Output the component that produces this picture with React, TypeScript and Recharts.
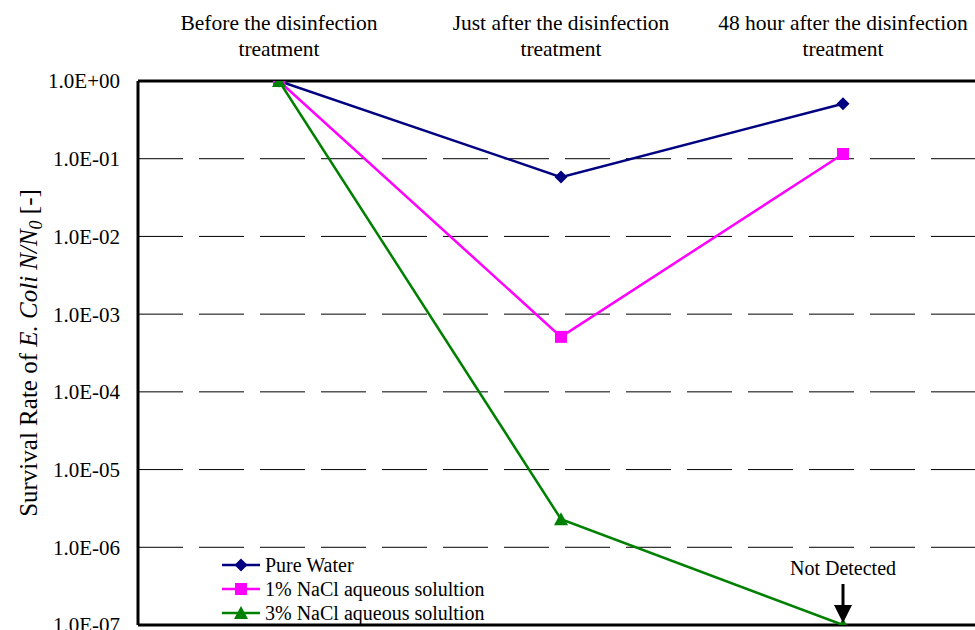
import React from 'react';
import { LineChart, Line, XAxis, YAxis, CartesianGrid, ReferenceLine, ReferenceDot } from 'recharts';

const categories = [
  'Before the disinfection treatment',
  'Just after the disinfection treatment',
  '48 hour after the disinfection treatment',
];
const pureWater = [1.0, 0.058, 0.51];
const nacl1 = [1.0, 5.1e-4, 0.115];
const nacl3 = [1.0, 2.3e-6, 1e-7];
const yTicks = [1e-7, 1e-6, 1e-5, 1e-4, 1e-3, 1e-2, 1e-1, 1];

const FONT = '"Liberation Serif", "Times New Roman", serif';

const data = categories.map((category, i) => ({
  category,
  pure: pureWater[i],
  nacl1: nacl1[i],
  nacl3: nacl3[i],
}));

type Shape = 'diamond' | 'square' | 'triangle';

const series: { key: string; name: string; color: string; shape: Shape }[] = [
  { key: 'pure', name: 'Pure Water', color: '#000080', shape: 'diamond' },
  { key: 'nacl1', name: '1% NaCl aqueous solultion', color: '#FF00FF', shape: 'square' },
  { key: 'nacl3', name: '3% NaCl aqueous solultion', color: '#008000', shape: 'triangle' },
];

function marker(shape: Shape, cx: number, cy: number, color: string, key?: string | number) {
  if (shape === 'diamond') {
    const s = 6.5;
    return <path key={key} d={`M${cx},${cy - s}L${cx + s},${cy}L${cx},${cy + s}L${cx - s},${cy}Z`} fill={color} />;
  }
  if (shape === 'square') {
    const s = 6;
    return <rect key={key} x={cx - s} y={cy - s} width={2 * s} height={2 * s} fill={color} />;
  }
  return <path key={key} d={`M${cx},${cy - 7}L${cx + 7},${cy + 6}L${cx - 7},${cy + 6}Z`} fill={color} />;
}

const fmt = (v: number) => {
  const e = Math.round(Math.log10(v));
  const sign = e < 0 ? '-' : '+';
  return `1.0E${sign}${String(Math.abs(e)).padStart(2, '0')}`;
};

const CategoryTick = (props: any) => {
  const { x, y, payload } = props;
  const text: string = payload.value;
  const cut = text.lastIndexOf(' ');
  return (
    <g>
      <text x={x} y={y - 51} textAnchor="middle" fontFamily={FONT} fontSize={21.5} fill="#000">
        {text.slice(0, cut)}
      </text>
      <text x={x} y={y - 25} textAnchor="middle" fontFamily={FONT} fontSize={21.5} fill="#000">
        {text.slice(cut + 1)}
      </text>
    </g>
  );
};

const YLabel = (props: any) => {
  const vb = props.viewBox;
  const x = vb.x + 37;
  const y = vb.y + vb.height / 2;
  return (
    <text
      x={x}
      y={y}
      transform={`rotate(-90, ${x}, ${y})`}
      textAnchor="middle"
      fontFamily={FONT}
      fontSize={25}
      fill="#000"
    >
      Survival Rate of <tspan fontStyle="italic">E. Coli N/N</tspan>
      <tspan fontStyle="italic" fontSize={18} dy={5}>0</tspan>
      <tspan dy={-5}> [-]</tspan>
    </text>
  );
};

const NotDetected = (props: any) => {
  const { cx, cy } = props;
  return (
    <g>
      <text x={cx} y={cy - 50} textAnchor="middle" fontFamily={FONT} fontSize={20} fill="#000">
        Not Detected
      </text>
      <line x1={cx} y1={cy - 41} x2={cx} y2={cy - 14} stroke="#000" strokeWidth={3} />
      <path d={`M${cx - 9},${cy - 20}L${cx + 9},${cy - 20}L${cx},${cy - 2}Z`} fill="#000" />
    </g>
  );
};

const LegendBox = () => (
  <div style={{ position: 'absolute', left: 222, top: 553, fontFamily: FONT, fontSize: 20, color: '#000' }}>
    {series.map((s) => (
      <div key={s.key} style={{ display: 'flex', alignItems: 'center', height: 24 }}>
        <svg width={43} height={24}>
          <line x1={0} y1={12} x2={38} y2={12} stroke={s.color} strokeWidth={2.5} />
          {marker(s.shape, 19, 12, s.color)}
        </svg>
        <span style={{ lineHeight: '24px', whiteSpace: 'nowrap' }}>{s.name}</span>
      </div>
    ))}
  </div>
);

export default function App() {
  return (
    <div style={{ position: 'fixed', left: 0, top: 0, width: 975, height: 630, overflow: 'hidden', background: '#fff' }}>
      <LineChart width={1000} height={680} data={data} margin={{ top: 0, right: 16, bottom: 55, left: 0 }}>
        <CartesianGrid horizontal vertical={false} stroke="#000" strokeWidth={1} strokeDasharray="45 16" />
        <XAxis
          dataKey="category"
          orientation="top"
          scale="band"
          height={81}
          axisLine={{ stroke: '#000', strokeWidth: 3 }}
          tickLine={false}
          tickSize={0}
          tickMargin={0}
          tick={<CategoryTick />}
          interval={0}
        />
        <YAxis
          scale="log"
          domain={[1e-7, 1]}
          ticks={yTicks}
          allowDataOverflow
          width={138}
          axisLine={{ stroke: '#000', strokeWidth: 3 }}
          tickLine={false}
          tickSize={0}
          tickMargin={18}
          tickFormatter={fmt}
          tick={{ fill: '#000', fontFamily: FONT, fontSize: 21 }}
          label={<YLabel />}
        />
        <ReferenceLine y={1e-7} stroke="#000" strokeWidth={3} />
        {series.map((s) => (
          <Line
            key={s.key}
            dataKey={s.key}
            name={s.name}
            stroke={s.color}
            strokeWidth={2.5}
            isAnimationActive={false}
            dot={(p: any) => marker(s.shape, p.cx, p.cy, s.color, `${s.key}-${p.index}`)}
            activeDot={false}
          />
        ))}
        <ReferenceDot x={categories[2]} y={1e-7} r={0} shape={<NotDetected />} ifOverflow="visible" />
      </LineChart>
      <LegendBox />
    </div>
  );
}
